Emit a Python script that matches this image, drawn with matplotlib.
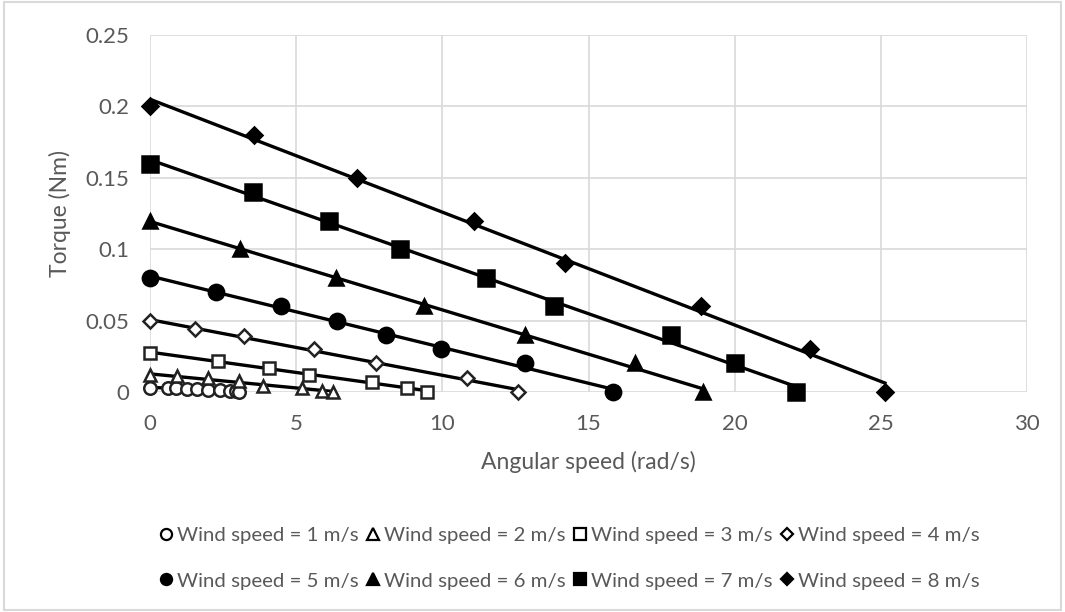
import numpy as np
import matplotlib
matplotlib.use("Agg")
import matplotlib.pyplot as plt
from matplotlib.lines import Line2D
from matplotlib.patches import Rectangle

plt.rcParams['font.family'] = ['Lato', 'DejaVu Sans']

# 读取的数据（从图中估计）
labels = ["Wind speed = 1 m/s", "Wind speed = 2 m/s", "Wind speed = 3 m/s", "Wind speed = 4 m/s",
          "Wind speed = 5 m/s", "Wind speed = 6 m/s", "Wind speed = 7 m/s", "Wind speed = 8 m/s"]

x1 = [0, 0.6, 0.9, 1.25, 1.6, 2.0, 2.4, 2.75, 2.95, 3.05]
y1 = [0.003, 0.0027, 0.0025, 0.0022, 0.002, 0.0017, 0.0013, 0.001, 0.0005, 0.0]
x2 = [0, 0.92, 2.0, 3.05, 3.85, 5.2, 5.9, 6.27]
y2 = [0.012, 0.011, 0.0095, 0.0075, 0.004, 0.003, 0.001, 0.0]
x3 = [0, 2.34, 4.08, 5.45, 7.58, 8.78, 9.49]
y3 = [0.027, 0.022, 0.017, 0.012, 0.007, 0.003, 0.0]
x4 = [0, 1.54, 3.21, 5.61, 7.72, 10.83, 12.6]
y4 = [0.05, 0.044, 0.039, 0.03, 0.02, 0.01, 0.0]
x5 = [0, 2.26, 4.48, 6.41, 8.09, 9.95, 12.82, 15.85]
y5 = [0.08, 0.07, 0.06, 0.05, 0.04, 0.03, 0.02, 0.0]
x6 = [0, 3.08, 6.37, 9.38, 12.82, 16.58, 18.93]
y6 = [0.12, 0.1, 0.08, 0.06, 0.04, 0.02, 0.0]
x7 = [0, 3.54, 6.14, 8.56, 11.48, 13.82, 17.82, 20.02, 22.1]
y7 = [0.16, 0.14, 0.12, 0.1, 0.08, 0.06, 0.04, 0.02, 0.0]
x8 = [0, 3.56, 7.08, 11.1, 14.18, 18.84, 22.57, 25.14]
y8 = [0.2, 0.18, 0.15, 0.12, 0.09, 0.06, 0.03, 0.0]

xs = [x1, x2, x3, x4, x5, x6, x7, x8]
ys = [y1, y2, y3, y4, y5, y6, y7, y8]

# 标记样式
markers = ['o', '^', 's', 'D', 'o', '^', 's', 'D']
filled = [False, False, False, False, True, True, True, True]
msizes = [9, 9, 9, 7, 11, 10, 11, 8]
leg_sizes = [8, 8, 8, 6.5, 8, 8, 8, 6.5]

grey = '#595959'
fig = plt.figure(figsize=(10.65, 6.12), dpi=100)
fig.patches.append(Rectangle((0.004, 0.004), 0.992, 0.992, transform=fig.transFigure,
                             fill=False, edgecolor='#d9d9d9', linewidth=1.5))
ax = fig.add_axes([150 / 1065, 1 - 392 / 612, 877 / 1065, 357 / 612])

handles = []
for x, y, m, f, ms, ls, lab in zip(xs, ys, markers, filled, msizes, leg_sizes, labels):
    x = np.array(x)
    y = np.array(y)
    # 线性趋势线
    k, b = np.polyfit(x, y, 1)
    xx = np.array([x.min(), x.max()])
    ax.plot(xx, k * xx + b, color='black', linewidth=2.4, zorder=3)
    fc = 'black' if f else 'white'
    ax.plot(x, y, linestyle='none', marker=m, markersize=ms, markerfacecolor=fc,
            markeredgecolor='black' if f else '#222222', markeredgewidth=1.8,
            zorder=4, clip_on=False)
    handles.append(Line2D([], [], linestyle='none', marker=m, markersize=ls,
                          markerfacecolor=fc, markeredgecolor='black', markeredgewidth=1.6, label=lab))

ax.set_xlim(0, 30)
ax.set_ylim(0, 0.25)
ax.set_xticks(range(0, 31, 5))
ax.set_yticks([0, 0.05, 0.1, 0.15, 0.2, 0.25])
ax.set_yticklabels(['0', '0.05', '0.1', '0.15', '0.2', '0.25'])
ax.grid(True, color='#d9d9d9', linewidth=1.2)
ax.set_axisbelow(True)
for s in ax.spines.values():
    s.set_visible(False)
ax.tick_params(length=0, labelsize=16, colors=grey, pad=15)
ax.tick_params(axis='x', pad=16)
ax.set_xlabel('Angular speed (rad/s)', fontsize=16.5, color=grey, labelpad=12)
ax.set_ylabel('Torque (Nm)', fontsize=16.5, color=grey, labelpad=10)

order = [0, 4, 1, 5, 2, 6, 3, 7]
fig.legend([handles[i] for i in order], [labels[i] for i in order], ncol=4,
           loc='center', bbox_to_anchor=(568 / 1065, 1 - 558 / 612), frameon=False,
           fontsize=14.7, labelcolor=grey, handletextpad=0.1, columnspacing=0.25,
           handlelength=0.9, labelspacing=1.4)

plt.savefig('out.png', dpi=100)
